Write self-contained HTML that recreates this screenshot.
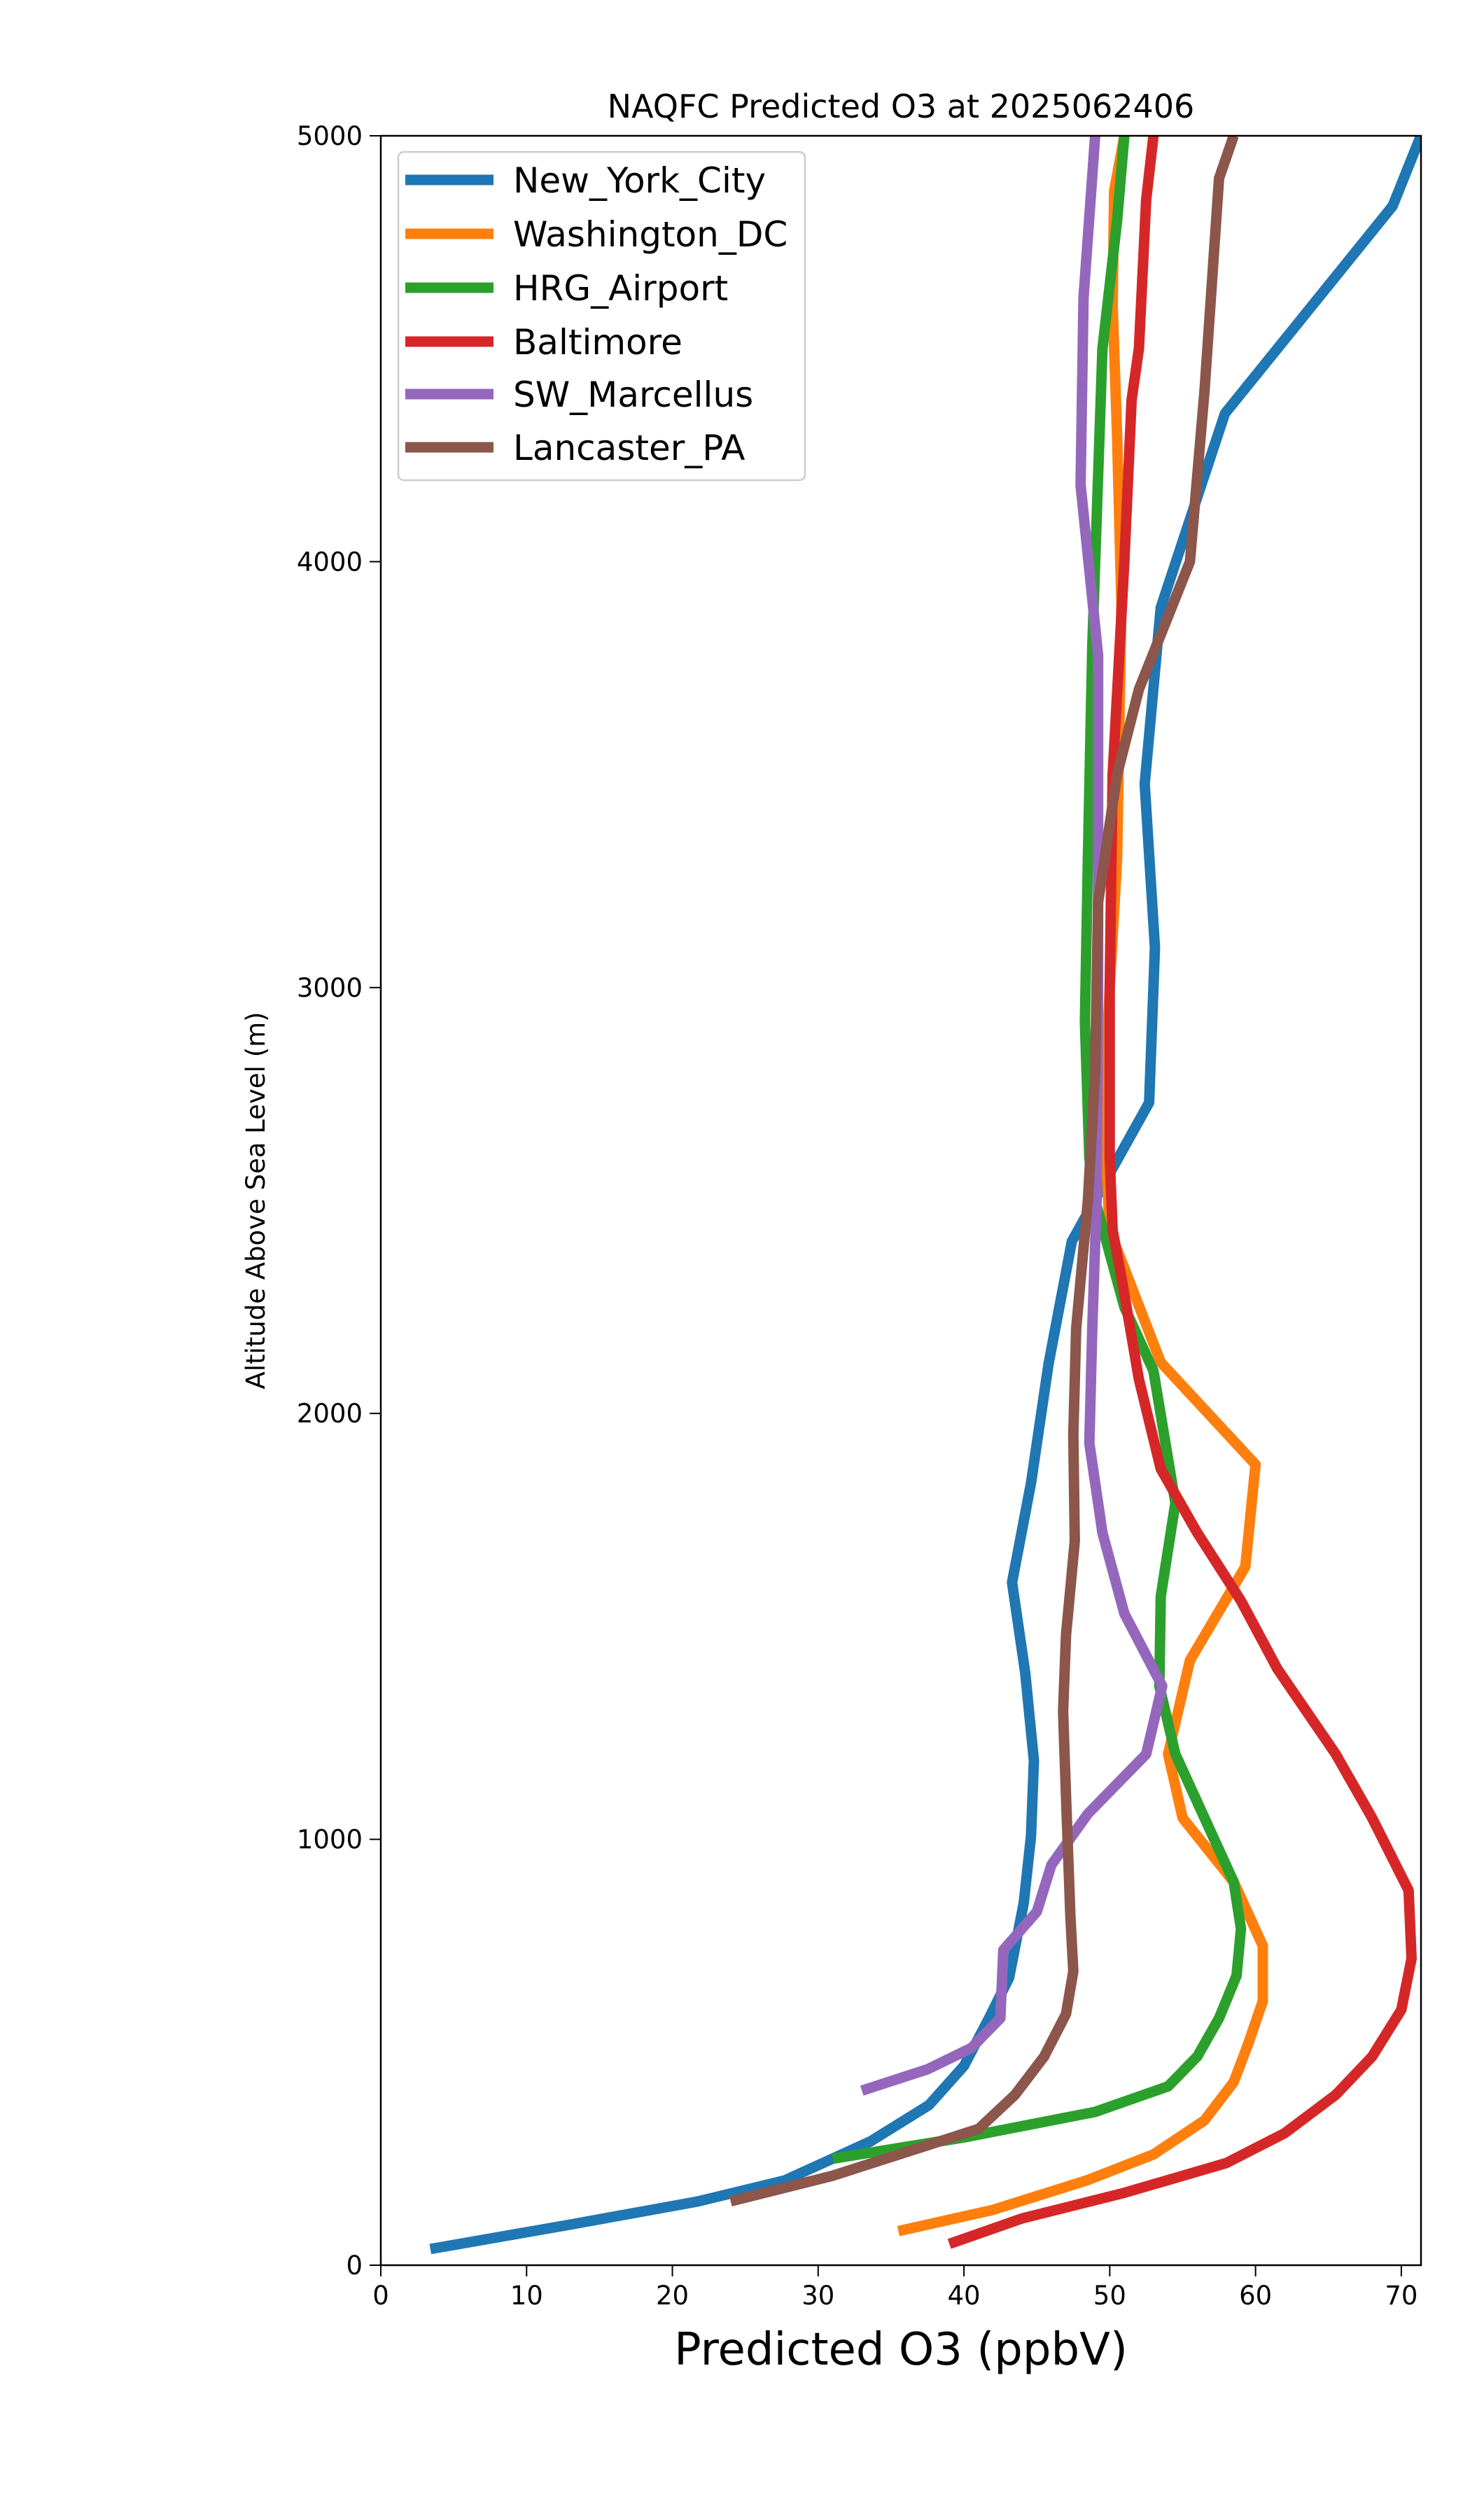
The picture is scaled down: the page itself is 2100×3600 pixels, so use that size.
<!DOCTYPE html>
<html><head><meta charset="utf-8"><style>body{margin:0;background:#fff}svg{display:block}text{font-family:"DejaVu Sans","Liberation Sans",sans-serif}</style></head>
<body>
<svg id="chart" width="2100" height="3600" xmlns="http://www.w3.org/2000/svg">
<rect width="2100" height="3600" fill="#fff"/>
<text x="1287" y="168" font-size="46" text-anchor="middle">NAQFC Predicted O3 at 2025062406</text>
<defs><clipPath id="clip"><rect x="544" y="194" width="1486" height="3042"/></clipPath></defs>
<g id="series" clip-path="url(#clip)"></g>
<g id="axes"></g>
<text x="1287" y="3378" font-size="64" text-anchor="middle">Predicted O3 (ppbV)</text>
<text transform="translate(378,1715) rotate(-90)" font-size="37" text-anchor="middle">Altitude Above Sea Level (m)</text>
<g id="legend"></g>
</svg>
<script>
const seriesNames = ["New_York_City","Washington_DC","HRG_Airport","Baltimore","SW_Marcellus","Lancaster_PA"];
const seriesColors = ["#1f77b4","#ff7f0e","#2ca02c","#d62728","#9467bd","#8c564b"];
const nycO3 = [3.4,13.1,21.8,27.7,33.6,37.6,40.0,41.7,43.1,44.1,44.6,44.8,44.2,43.3,44.6,45.8,47.4,52.7,53.1,52.4,53.5,57.9,69.4,71.3];
const nycAlt = [38,96,150,199,291,376,468,579,675,851,1008,1185,1392,1603,1837,2116,2404,2730,3094,3478,3892,4348,4835,4997];
const dcO3 = [35.5,42,48.5,53,56.5,58.5,59.5,60.5,60.5,58.5,55,54,55.5,59.3,60,53.5,50,49.6,50,50.5,50.7,50.8,50.5,50.2,50.3,51];
const dcAlt = [80,130,200,260,340,430,520,620,750,900,1050,1200,1420,1640,1880,2120,2430,2700,3000,3300,3700,3900,4300,4600,4870,5000];
const hrgO3 = [31,40,49,54,56,57.5,58.7,59,58.5,54.5,53.4,53.5,54.5,53,51,49,48.6,48.3,48.5,48.8,49.2,49.5,50.5,51];
const hrgAlt = [250,300,360,420,490,580,680,790,900,1200,1360,1570,1790,2100,2250,2500,2600,2920,3300,3800,4200,4500,4800,5000];
const balO3 = [39,44,51,58,62,65.5,68,70,70.7,70.5,68,65.5,61.5,59,56,53.5,52,50.8,50.2,50,50,50.2,51,51.5,52,52.5,53];
const balAlt = [50,110,170,240,310,400,490,600,720,880,1050,1200,1400,1560,1720,1870,2080,2320,2430,2600,3000,3500,4000,4380,4500,4850,5000];
const swmO3 = [33,37.5,40.5,42.5,42.7,45,46,48.5,52.5,53.6,51,49.5,48.6,48.8,49.1,49.2,49.2,48,48.2,49];
const swmAlt = [410,460,510,580,740,830,940,1060,1200,1360,1530,1720,1930,2200,2500,3000,3780,4180,4620,5000];
const lanO3 = [24,31,41,43.5,45.5,47,47.5,47.3,47,46.8,47,47.6,47.5,47.7,48.5,49,49.2,50.5,52,55.5,56.5,57.5,58.5];
const lanAlt = [150,210,320,400,490,590,690,820,1100,1300,1480,1700,1950,2200,2500,2800,3200,3500,3700,4000,4400,4900,5000];
const xTicks = [0,10,20,30,40,50,60,70];
const yTicks = [0,1000,2000,3000,4000,5000];

const NS="http://www.w3.org/2000/svg";
const L=544,R=2030,T=194,B=3236,XMAX=71.35,YMAX=5000;
const xs=v=>L+v/XMAX*(R-L);
const ys=v=>B-v/YMAX*(B-T);
function mk(tag,attrs,parent){const e=document.createElementNS(NS,tag);for(const k in attrs)e.setAttribute(k,attrs[k]);parent.appendChild(e);return e;}
const allX=[nycO3,dcO3,hrgO3,balO3,swmO3,lanO3];
const allY=[nycAlt,dcAlt,hrgAlt,balAlt,swmAlt,lanAlt];
const sg=document.getElementById('series');
allX.forEach((xv,i)=>{
  const pts=xv.map((v,j)=>xs(v).toFixed(1)+','+ys(allY[i][j]).toFixed(1)).join(' ');
  const p=mk('polyline',{points:pts,fill:'none',stroke:seriesColors[i],'stroke-width':15,'stroke-linejoin':'round','stroke-linecap':'butt'},sg);
  
  
});
const ag=document.getElementById('axes');
const frame=mk('rect',{x:L,y:T,width:R-L,height:B-T,fill:'none',stroke:'#000','stroke-width':2.5},ag);


xTicks.forEach(t=>{
  const x=xs(t);
  const tk=mk('line',{x1:x,y1:B,x2:x,y2:B+16,stroke:'#000','stroke-width':2},ag);
  
  
  const lb=mk('text',{x:x,y:B+56,'font-size':37,'text-anchor':'middle'},ag);
  lb.textContent=t;
  
  
});
yTicks.forEach(t=>{
  const y=ys(t);
  const tk=mk('line',{x1:L-16,y1:y,x2:L,y2:y,stroke:'#000','stroke-width':2},ag);
  
  
  const lb=mk('text',{x:L-26,y:y+13,'font-size':37,'text-anchor':'end'},ag);
  lb.textContent=t;
  
  
});
const lg=document.getElementById('legend');
mk('rect',{x:569,y:217,width:581,height:469,rx:8,fill:'#fff','fill-opacity':0.8,stroke:'#ccc','stroke-width':2.5},lg);
const ly=[257,334,411,488,563,639];
seriesNames.forEach((n,i)=>{
  const g=mk('g',{},lg);
  
  
  mk('line',{x1:579,y1:ly[i],x2:705,y2:ly[i],stroke:seriesColors[i],'stroke-width':15},g);
  const t=mk('text',{x:733,y:ly[i]+18,'font-size':50},g);
  t.textContent=n;
});
</script>
</body></html>
